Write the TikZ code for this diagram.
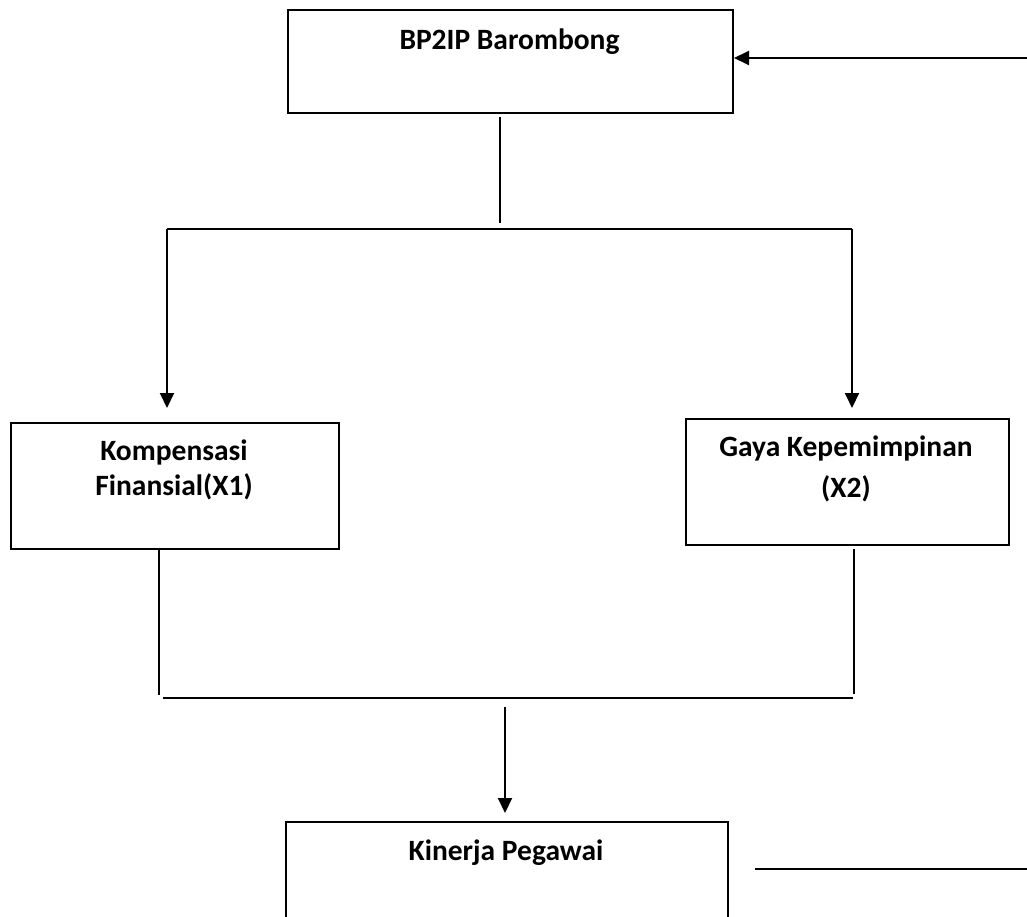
\documentclass[tikz,border=0pt]{standalone}
\usepackage{fontspec}
\setmainfont{Carlito}
\usetikzlibrary{arrows.meta}
\begin{document}
\begin{tikzpicture}[x=1pt,y=-1pt,
  box/.style={draw=black,line width=2pt,inner sep=0pt,anchor=north west},
  lbl/.style={anchor=base,inner sep=0pt,font=\fontsize{29.5}{35}\selectfont\bfseries},
  thin/.style={line width=1.7pt},
  hline/.style={line width=2.4pt},
  arr/.style={line width=2pt,-{Triangle[length=15pt,width=14pt]}}]
\clip (0,0) rectangle (1027,917);
\fill[white] (0,0) rectangle (1027,917);
% boxes
\node[box,minimum width=445pt,minimum height=103pt] (top) at (287,9) {};
\node[box,minimum width=328pt,minimum height=126pt] (kom) at (10,422) {};
\node[box,minimum width=323pt,minimum height=126pt] (gaya) at (685,418) {};
\node[box,minimum width=442pt,minimum height=120pt] (kin) at (285,821) {};
% labels
\node[lbl] (t1) at (509.5,50) {BP2IP Barombong};
\node[lbl] (k1) at (174,460) {Kompensasi};
\node[lbl] (k2) at (174,495) {Finansial(X1)};
\node[lbl] (g1) at (846,456) {Gaya Kepemimpinan};
\node[lbl] (g2) at (846,497) {(X2)};
\node[lbl] (b1) at (506,860) {Kinerja Pegawai};
% incoming arrow at top
\coordinate (inR) at (1027,58);
\draw[arr] (inR) -- (inR -| top.east);
% split
\coordinate (s1) at (500,117);
\coordinate (s2) at (500,223);
\draw[thin] (s1) -- (s2);
\coordinate (hL) at (167,229);
\coordinate (hR) at (852,229);
\draw[hline] (hL) -- (hR);
\draw[arr,shorten >=14pt] (hL) -- (hL |- kom.north);
\draw[arr,shorten >=10pt] (hR) -- (hR |- gaya.north);
% join
\coordinate (vL1) at (159,548);
\coordinate (vL2) at (159,695);
\coordinate (vR1) at (854,549);
\coordinate (vR2) at (854,694);
\draw[thin] (vL1) -- (vL2);
\draw[thin] (vR1) -- (vR2);
\coordinate (jL) at (163,698);
\coordinate (jR) at (853,698);
\draw[hline] (jL) -- (jR);
\coordinate (d1) at (505,707);
\draw[arr,shorten >=8pt] (d1) -- (d1 |- kin.north);
% outgoing line at bottom
\coordinate (r1) at (755,869);
\coordinate (r2) at (1027,869);
\draw[hline] (r1) -- (r2);
\end{tikzpicture}
\end{document}
